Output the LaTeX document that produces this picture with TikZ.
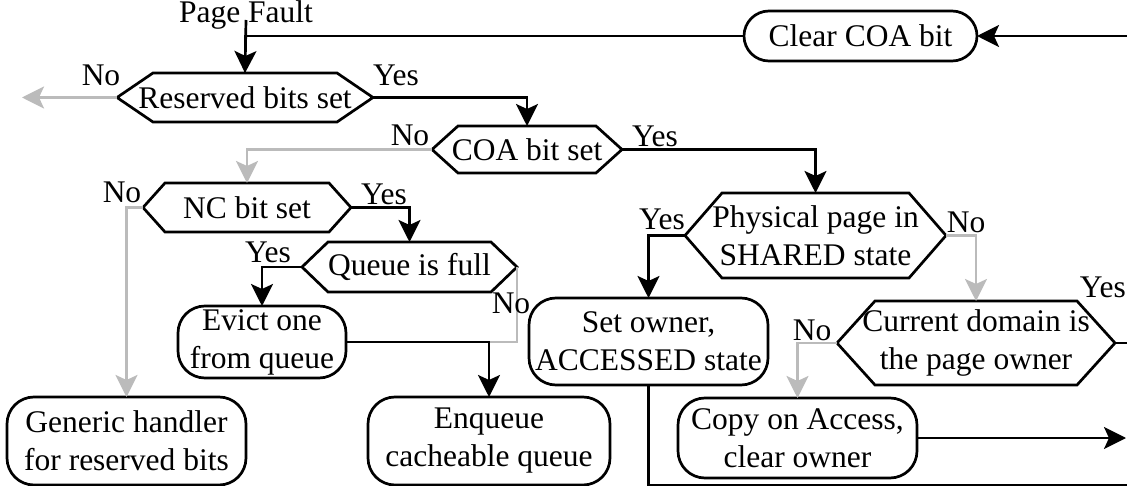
\documentclass[tikz,border=0pt]{standalone}
\usepackage{fontspec}
\setmainfont{Liberation Serif}
\usetikzlibrary{arrows.meta}
\definecolor{lgray}{RGB}{187,187,187}
\newcommand\hexframe[2]{%
  \draw[frame] (#1.west) -- ([xshift=#2pt]#1.north west) -- ([xshift=-#2pt]#1.north east)
    -- (#1.east) -- ([xshift=-#2pt]#1.south east) -- ([xshift=#2pt]#1.south west) -- cycle;}
\tikzset{
  txt/.style={font=\fontsize{31.5}{38}\selectfont, align=center, inner sep=0pt, outer sep=0pt},
  frame/.style={line width=2.7pt, line join=miter},
  rbox/.style={txt, draw, line width=2.7pt, rounded corners=27pt},
  hexn/.style={txt},
  lab/.style={font=\fontsize{31.5}{38}\selectfont, inner sep=0pt, anchor=base},
  tip/.style={-{Stealth[length=22pt,width=22pt,inset=5pt]}},
  arr/.style={line width=2.7pt, tip},
  garr/.style={line width=2.7pt, lgray, tip},
  bline/.style={line width=2.7pt},
  gline/.style={line width=2.7pt, lgray},
}
\begin{document}
\begin{tikzpicture}[x=1pt,y=-1pt]
\useasboundingbox (0,0) rectangle (1127,486);
% nodes
\node[lab] (pf) at (246,23) {Page Fault};
\node[rbox, rounded corners=25pt, minimum width=233pt, minimum height=50pt] (clear) at (860.5,36) {Clear COA bit};
\node[hexn, minimum width=256pt, minimum height=49pt] (res) at (245,97.5) {Reserved bits set};
\node[hexn, minimum width=190pt, minimum height=47pt] (coa) at (527,149.5) {COA bit set};
\node[hexn, minimum width=208pt, minimum height=49pt] (nc) at (247,207.5) {NC bit set};
\node[hexn, minimum width=215pt, minimum height=50pt] (queue) at (409.5,267) {Queue is full};
\node[hexn, minimum width=261pt, minimum height=85pt] (phys) at (815.5,235.5) {Physical page in\\SHARED state};
\node[hexn, minimum width=278pt, minimum height=84pt] (cur) at (976,343) {Current domain is\\the page owner};
\node[rbox, minimum width=239pt, minimum height=88pt] (gen) at (126.5,441) {Generic handler\\for reserved bits};
\node[rbox, minimum width=168pt, minimum height=72pt] (evict) at (262,342) {Evict one\\from queue};
\node[rbox, minimum width=242pt, minimum height=88pt] (enq) at (489,441) {Enqueue\\cacheable queue};
\node[rbox, minimum width=239pt, minimum height=87pt] (set) at (648.5,341.5) {Set owner,\\ACCESSED state};
\node[rbox, minimum width=239pt, minimum height=80pt] (copy) at (797.5,438) {Copy on Access,\\clear owner};
\hexframe{res}{36}
\hexframe{coa}{26}
\hexframe{nc}{22}
\hexframe{queue}{26}
\hexframe{phys}{37}
\hexframe{cur}{38}
% edge coordinates
\coordinate (eL) at (22,97.5);
\coordinate (eR1) at (1127,36);
\coordinate (eR2) at (1127,343);
\coordinate (eR3) at (1126,438);
\coordinate (eR4) at (1127,485);
\coordinate (jq) at (enq.north |- evict.east);
% connectors
\draw[bline] (clear.west) -| (res.north);
\draw[arr] ([yshift=3pt]pf.base) -- (res.north);
\draw[arr] (eR1) -- (clear.east);
\draw[garr] (res.west) -- (eL);
\draw[arr] (res.east) -| (coa.north);
\draw[garr] (coa.west) -| (nc.north);
\draw[arr] (coa.east) -| (phys.north);
\draw[garr] (nc.west) -| (gen.north);
\draw[arr] (nc.east) -| (queue.north);
\draw[arr] (queue.west) -| (evict.north);
\draw[gline] (queue.east) |- (jq);
\draw[arr] (evict.east) -| (enq.north);
\draw[arr] (phys.west) -| (set.north);
\draw[garr] (phys.east) -| (cur.north);
\draw[bline] (set.south) |- (eR4);
\draw[garr] (cur.west) -| (copy.north);
\draw[bline] (cur.east) -- (eR2);
\draw[arr] (copy.east) -- (eR3);
% labels
\node[lab] (l1) at (101,86) {No};
\node[lab] (l2) at (396,86) {Yes};
\node[lab] (l3) at (410,146) {No};
\node[lab] (l4) at (655,147) {Yes};
\node[lab] (l5) at (122,203) {No};
\node[lab] (l6) at (384,205) {Yes};
\node[lab] (l7) at (268,263) {Yes};
\node[lab] (l8) at (511,313) {No};
\node[lab] (l9) at (662,230) {Yes};
\node[lab] (l10) at (966,233) {No};
\node[lab, anchor=base east] (l11) at (1126,298) {Yes};
\node[lab] (l12) at (812,340) {No};
\end{tikzpicture}
\end{document}
